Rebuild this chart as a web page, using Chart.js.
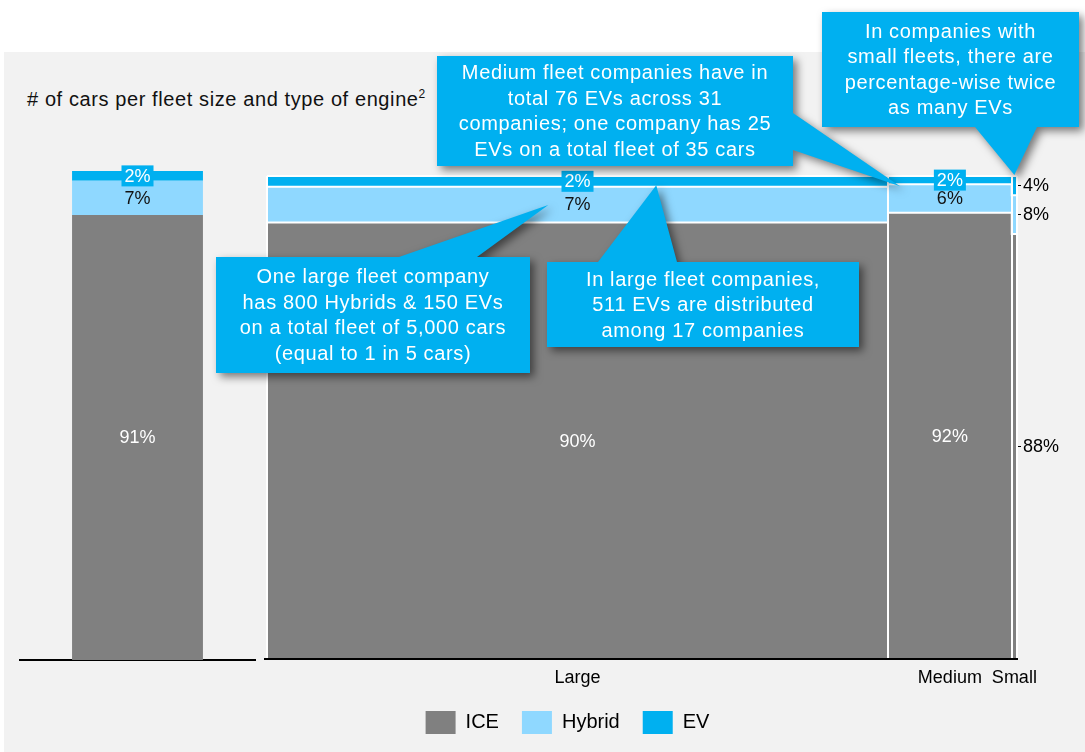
<!DOCTYPE html>
<html>
<head>
<meta charset="utf-8">
<script src="https://cdn.jsdelivr.net/npm/chart.js@4.4.0/dist/chart.umd.min.js"></script>
<style>
  html, body { margin: 0; padding: 0; background: #fff; }
  #wrap { position: relative; width: 1085px; height: 752px; overflow: hidden; background: #fff;
          font-family: "Liberation Sans", Arial, sans-serif; }
  #panel { position: absolute; left: 4px; top: 52px; right: 0; bottom: 0; background: #f2f2f2; }
  #title { position: absolute; left: 27px; top: 88px; font-size: 20px; line-height: 23px;
           letter-spacing: 0.6px; color: #111; white-space: nowrap; }
  #title sup { font-size: 12px; vertical-align: 8px; line-height: 0; letter-spacing: 0; }
  canvas { position: absolute; left: 0; top: 0; }
</style>
</head>
<body>
<div id="wrap">
  <div id="panel"></div>
  <div id="title"># of cars per fleet size and type of engine<sup>2</sup></div>
  <canvas id="totalChart" width="258" height="752"></canvas>
  <canvas id="mekkoChart" width="1085" height="752"></canvas>
</div>
<script>
// data
const engineTypes = ["ICE", "Hybrid", "EV"];
const engineColors = ["#808080", "#8fd8ff", "#00b0f0"];
const totalShare = [91, 7, 2];                // all companies, % of cars
const fleetSizes = ["Large", "Medium", "Small"];
const fleetShare = [82.8, 16.5, 0.7];         // share of all cars per fleet size, %
const iceShare = [90.4, 92.4, 88];
const hybridShare = [7.4, 5.9, 8];
const evShare = [2.2, 1.7, 4];

const callouts = [
  { lines: ["One large fleet company", "has 800 Hybrids & 150 EVs", "on a total fleet of 5,000 cars", "(equal to 1 in 5 cars)"],
    box: { x: 216, y: 257, w: 314, h: 116 }, base: [[399, 257], [477, 257]], tip: { x: 37.5, y: 94.0 } },
  { lines: ["In large fleet companies,", "511 EVs are distributed", "among 17 companies"],
    box: { x: 547, y: 262, w: 312, h: 85 }, base: [[598, 262], [677, 262]], tip: { x: 51.9, y: 98.1 } },
  { lines: ["In companies with", "small fleets, there are", "percentage-wise twice", "as many EVs"],
    box: { x: 822, y: 12, w: 257, h: 115 }, base: [[975, 127], [1037, 127]], tip: { x: 99.65, y: 100.2 } },
  { lines: ["Medium fleet companies have in", "total 76 EVs across 31", "companies; one company has 25", "EVs on a total fleet of 35 cars"],
    box: { x: 437, y: 56, w: 356, h: 110 }, base: [[793, 113], [793, 150]], tip: { x: 84.4, y: 97.9 } }
];

Chart.defaults.font.family = '"Liberation Sans", Arial, sans-serif';
Chart.defaults.color = "#000";

const FONT = '"Liberation Sans", Arial, sans-serif';

function segLabel(ctx, text, x, y, k) {
  ctx.font = "18px " + FONT;
  ctx.textAlign = "center";
  ctx.textBaseline = "middle";
  if (k === 2) {
    const w = ctx.measureText(text).width + 6;
    ctx.fillStyle = engineColors[2];
    ctx.fillRect(x - w / 2, y - 10.5, w, 21);
    ctx.fillStyle = "#fff";
  } else {
    ctx.fillStyle = k === 0 ? "#fff" : "#111";
  }
  ctx.fillText(text, x, y + 1);
}

// left: total bar
const totalLabels = {
  id: "totalLabels",
  afterDatasetsDraw(chart) {
    const ctx = chart.ctx;
    ctx.save();
    chart.data.datasets.forEach((d, k) => {
      const bar = chart.getDatasetMeta(k).data[0];
      segLabel(ctx, d.data[0] + "%", bar.x, (bar.y + bar.base) / 2, k);
    });
    ctx.restore();
  }
};

new Chart(document.getElementById("totalChart"), {
  type: "bar",
  data: {
    labels: [""],
    datasets: engineTypes.map((t, k) => ({
      label: t,
      data: [totalShare[k]],
      backgroundColor: engineColors[k],
      borderWidth: 0,
      barPercentage: 0.557,
      categoryPercentage: 1
    }))
  },
  options: {
    responsive: false,
    animation: false,
    layout: { padding: { left: 20, right: 3, top: 171, bottom: 92 } },
    plugins: { legend: { display: false }, tooltip: { enabled: false } },
    scales: {
      x: { stacked: true, grid: { display: false, drawTicks: false }, ticks: { display: false },
           border: { color: "#000", width: 2 } },
      y: { stacked: true, display: false, min: 0, max: 100 }
    }
  },
  plugins: [totalLabels]
});

// right: mekko
const starts = [];
let total = 0;
fleetShare.forEach(w => { starts.push(total); total += w; });

const tops = [
  iceShare,
  iceShare.map((v, i) => v + hybridShare[i]),
  iceShare.map((v, i) => v + hybridShare[i] + evShare[i])
];
function stepPoints(t) {
  const pts = starts.map((s, i) => ({ x: s, y: t[i] }));
  pts.push({ x: total, y: t[t.length - 1] });
  return pts;
}

const last = fleetSizes.length - 1;
const sideTicks = [
  iceShare[last] + hybridShare[last] + evShare[last] / 2,
  iceShare[last] + hybridShare[last] / 2,
  iceShare[last] / 2
];
const sideLabels = [evShare[last], hybridShare[last], iceShare[last]].map(v => Math.round(v) + "%");

const mekkoDecor = {
  id: "mekkoDecor",
  afterDatasetsDraw(chart) {
    const { ctx, scales: { x, y } } = chart;
    ctx.save();
    fleetSizes.forEach((name, i) => {
      const w = x.getPixelForValue(starts[i] + fleetShare[i]) - x.getPixelForValue(starts[i]);
      if (w < 40) return;
      const cx = x.getPixelForValue(starts[i] + fleetShare[i] / 2);
      const segs = [iceShare[i], hybridShare[i], evShare[i]];
      let base = 0;
      segs.forEach((v, k) => {
        segLabel(ctx, Math.round(v) + "%", cx, y.getPixelForValue(base + v / 2), k);
        base += v;
      });
    });
    ctx.restore();
  },
  afterDraw(chart) {
    const { ctx, scales: { x, y } } = chart;
    callouts.forEach(c => {
      const tx = x.getPixelForValue(c.tip.x), ty = y.getPixelForValue(c.tip.y);
      ctx.save();
      ctx.shadowColor = "rgba(0,0,0,0.5)";
      ctx.shadowBlur = 9;
      ctx.shadowOffsetX = 4;
      ctx.shadowOffsetY = 4;
      ctx.fillStyle = engineColors[2];
      ctx.beginPath();
      ctx.rect(c.box.x, c.box.y, c.box.w, c.box.h);
      ctx.moveTo(c.base[0][0], c.base[0][1]);
      ctx.lineTo(tx, ty);
      ctx.lineTo(c.base[1][0], c.base[1][1]);
      ctx.closePath();
      ctx.fill();
      ctx.restore();

      ctx.save();
      ctx.fillStyle = "#fff";
      ctx.font = "20px " + FONT;
      ctx.letterSpacing = "0.65px";
      ctx.textAlign = "center";
      ctx.textBaseline = "middle";
      const lh = 25.5;
      const y0 = c.box.y + c.box.h / 2 - (c.lines.length - 1) * lh / 2;
      c.lines.forEach((l, j) => ctx.fillText(l, c.box.x + c.box.w / 2, y0 + j * lh + 1));
      ctx.restore();
    });
  }
};

new Chart(document.getElementById("mekkoChart"), {
  type: "line",
  data: {
    datasets: engineTypes.map((t, k) => ({
      label: t,
      data: stepPoints(tops[k]),
      stepped: true,
      fill: k === 0 ? "origin" : "-1",
      backgroundColor: engineColors[k],
      borderColor: "#fff",
      borderWidth: 2,
      pointRadius: 0,
      clip: false
    }))
  },
  options: {
    responsive: false,
    animation: false,
    layout: { padding: { left: 50, right: 0, top: 176, bottom: 8 } },
    plugins: {
      tooltip: { enabled: false },
      legend: {
        position: "bottom",
        labels: {
          boxWidth: 30, boxHeight: 23, padding: 23, color: "#000", font: { size: 20 },
          generateLabels: chart => chart.data.datasets.map((d, i) => ({
            text: d.label, fillStyle: d.backgroundColor, strokeStyle: d.backgroundColor,
            lineWidth: 0, hidden: false, datasetIndex: i, fontColor: "#000"
          }))
        }
      }
    },
    scales: {
      x: {
        type: "linear", min: -0.27, max: 100,
        afterBuildTicks: s => { s.ticks = starts.map((st, i) => ({ value: st + fleetShare[i] / 2 })); },
        ticks: { autoSkip: false, maxRotation: 0, minRotation: 0, padding: 8, color: "#000",
                 font: { size: 18 }, callback: (v, i) => fleetSizes[i] },
        grid: { display: false, drawTicks: false },
        border: { color: "#000", width: 2, z: 2 },
        afterFit: s => { s.height = s.height - 9; }
      },
      xSep: {
        type: "linear", position: "bottom", min: -0.27, max: 100,
        afterBuildTicks: s => { s.ticks = starts.concat([total]).map(v => ({ value: v })); },
        ticks: { display: false },
        grid: { color: "#fff", lineWidth: 2, drawTicks: false, z: 1 },
        border: { display: false },
        afterFit: s => { s.height = 0; }
      },
      y: {
        min: 0, max: 100,
        ticks: { display: false },
        grid: { display: false, drawTicks: false },
        border: { display: false },
        afterFit: s => { s.width = 215; }
      },
      yR: {
        position: "right", min: 0, max: 100,
        afterBuildTicks: s => { s.ticks = sideTicks.map(v => ({ value: v })); },
        ticks: { color: "#000", font: { size: 18 }, padding: 2, callback: (v, i) => sideLabels[i] },
        grid: { drawOnChartArea: false, drawTicks: true, tickLength: 4, color: "#000", lineWidth: 1 },
        border: { display: false },
        afterFit: s => { s.width = 68; }
      }
    }
  },
  plugins: [mekkoDecor]
});
</script>
</body>
</html>
